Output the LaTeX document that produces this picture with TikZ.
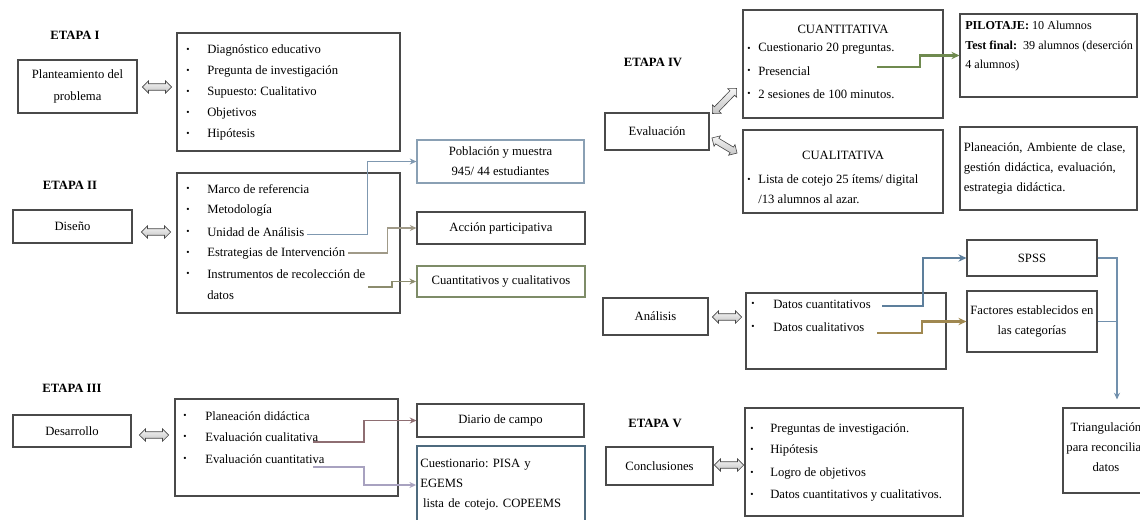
\documentclass[tikz,border=0pt]{standalone}
\usepackage{fontspec}
\setmainfont{Liberation Serif}
\usetikzlibrary{arrows.meta,shapes.arrows,shadows}
\newcommand\dfs{\fontsize{9.5}{15}\selectfont\frenchspacing}
\newcommand\dfsb{\fontsize{9.5}{16.5}\selectfont\frenchspacing}
\newcommand\dfsp{\fontsize{9.1}{14.6}\selectfont\frenchspacing}
\newcommand\bx[7]{\node[box,#6,minimum width={(#4-#2)*0.75pt},minimum height={(#5-#3)*0.75pt}] (#1) at ({(#2+#4)/2},{(#3+#5)/2}) {#7};}
\definecolor{boxgray}{HTML}{4A4A4A}
\definecolor{pobcol}{HTML}{8AA0B4}
\definecolor{poblin}{HTML}{7F98B0}
\definecolor{acclin}{HTML}{A09A88}
\definecolor{cyclin}{HTML}{8C8C6E}
\definecolor{cycbox}{HTML}{7E8C68}
\definecolor{dialin}{HTML}{8E6E72}
\definecolor{cuelin}{HTML}{A8A2C0}
\definecolor{cuebox}{HTML}{4E6A7E}
\definecolor{pillin}{HTML}{6F8A4F}
\definecolor{qlin}{HTML}{5D7F9C}
\definecolor{clin}{HTML}{A08850}
\definecolor{trilin}{HTML}{7190AD}
\begin{document}
\begin{tikzpicture}[x=0.75pt,y=-0.75pt,
  box/.style={draw=boxgray, fill=white, line width=0.8pt, inner sep=0pt, font=\dfs, align=center,
    drop shadow={shadow xshift=0.9pt, shadow yshift=-0.9pt, opacity=0.3, fill=black}},
  itm/.style={font=\dfs, anchor=west, inner sep=0pt},
  bul/.style={font=\fontsize{7}{7}\selectfont, inner sep=0pt},
  etapa/.style={font=\dfs\bfseries, inner sep=0pt},
  dbl/.style={double arrow, draw=gray!55!black, line width=0.45pt, top color=gray!8, bottom color=gray!45,
    minimum height=22pt, inner xsep=0pt, inner ysep=2.2pt, double arrow head extend=2.2pt},
  conn/.style={line width=0.9pt, -{Stealth[length=5pt,width=4.5pt]}},
  thick conn/.style={line width=1.9pt, -{Stealth[length=6pt,width=5.5pt]}}
]
\useasboundingbox (0,0) rectangle (1140,519);
\clip (0,0) rectangle (1140,519);
\fill[white] (0,0) rectangle (1140,519);

% ---------- ETAPA I ----------
\node[etapa] (e1) at (75,35) {ETAPA I};
\bx{p1}{18}{60}{137}{113}{font=\dfsb}{Planteamiento del\\problema}
\bx{b1}{177}{33}{400}{151}{}{}
\foreach \y in {50,71,92,113,134} \node[bul] at (188,\y) {\textbullet};
\node[itm] (i11) at (207,50) {Diagnóstico educativo};
\node[itm] (i12) at (207,71) {Pregunta de investigación};
\node[itm] (i13) at (207,92) {Supuesto: Cualitativo};
\node[itm] (i14) at (207,113) {Objetivos};
\node[itm] (i15) at (207,134) {Hipótesis};
\node[dbl] (a1) at (157,87) {};

% ---------- ETAPA II ----------
\node[etapa] (e2) at (70,185) {ETAPA II};
\bx{d2}{13}{210}{132}{243}{}{Diseño}
\bx{b2}{177}{173}{400}{313}{}{}
\foreach \y in {189,210,232,253,274} \node[bul] at (188,\y) {\textbullet};
\node[itm] (i21) at (207,189) {Marco de referencia};
\node[itm] (i22) at (207,210) {Metodología};
\node[itm] (i23) at (207,232) {Unidad de Análisis};
\node[itm] (i24) at (207,253) {Estrategias de Intervención};
\node[itm] (i25) at (207,274) {Instrumentos de recolección de};
\node[itm] (i26) at (207,295) {datos};
\node[dbl] (a2) at (156,232) {};

\bx{pob}{417}{140}{584}{183}{draw=pobcol}{Población y muestra\\945/ 44 estudiantes}
\bx{acc}{417}{212}{585}{244}{}{Acción participativa}
\bx{cyc}{417}{266}{585}{297}{draw=cycbox, line width=1.4pt}{Cuantitativos y cualitativos}

\coordinate (k1) at (365,0);
\coordinate (k2) at (385,0);
\coordinate (k3) at (392,0);
\coordinate (s3) at (368,287);
\draw[conn, poblin] ([xshift=2pt,yshift=-2pt]i23.east) -- ([xshift=2pt,yshift=-2pt]i23.east -| k1) |- (pob.west);
\draw[conn, acclin] ([xshift=2pt]i24.east) -- ([xshift=2pt]i24.east -| k2) |- (acc.west);
\draw[conn, cyclin] (s3) -- (s3 -| k3) |- (cyc.west);

% ---------- ETAPA III ----------
\node[etapa] (e3) at (72,388) {ETAPA III};
\bx{d3}{13}{415}{131}{447}{}{Desarrollo}
\bx{b3}{175}{399}{398}{496}{}{}
\foreach \y in {416,437,459} \node[bul] at (185,\y) {\textbullet};
\node[itm] (i31) at (205,416) {Planeación didáctica};
\node[itm] (i32) at (205,437) {Evaluación cualitativa};
\node[itm] (i33) at (205,459) {Evaluación cuantitativa};
\node[dbl] (a3) at (154,435) {};

\bx{dia}{417}{404}{584}{437}{}{Diario de campo}
\bx{cue}{417}{446}{585}{524}{draw=cuebox, line width=1.4pt, text width=121pt, align=left}{Cuestionario: PISA y\\EGEMS\\\hspace{2pt}lista de cotejo. COPEEMS}

\coordinate (k4) at (364,0);
\coordinate (s4) at (313,442);
\coordinate (s5) at (313,467);
\draw[conn, dialin] (s4) -- (s4 -| k4) |- (dia.west);
\draw[conn, cuelin] (s5) -- (s5 -| k4) |- (cue.west);

% ---------- ETAPA IV ----------
\node[etapa] (e4) at (653,62) {ETAPA IV};
\bx{ev}{605}{113}{709}{150}{}{Evaluación}
\bx{cuant}{743}{10}{943}{118}{}{}
\node[inner sep=0pt, font=\dfs] (t1) at (843,29) {CUANTITATIVA};
\foreach \y in {49,71,94} \node[bul] at (749,\y) {\textbullet};
\node[itm] (i41) at (758,49) {Cuestionario 20 preguntas.};
\node[itm] (i42) at (758,71) {Presencial};
\node[itm] (i43) at (758,94) {2 sesiones de 100 minutos.};
\bx{cual}{743}{130}{943}{213}{}{}
\node[inner sep=0pt, font=\dfs] (t2) at (843,155) {CUALITATIVA};
\node[bul] at (749,180) {\textbullet};
\node[itm] (i44) at (758,180) {Lista de cotejo 25 ítems/ digital};
\node[itm] (i45) at (758,199) {/13 alumnos al azar.};
\node[dbl, rotate=46, minimum height=26pt] (a4) at (724.5,101) {};
\node[dbl, rotate=-31] (a5) at (724.5,145.5) {};

\bx{pil}{960}{14}{1137}{97}{}{}
\node[inner sep=0pt, font=\dfsp, anchor=north west, align=left] (pilt) at (965,21)
  {\textbf{PILOTAJE:} 10 Alumnos\\\textbf{Test final:}\ \ 39 alumnos (deserción\\4 alumnos)};
\bx{plan}{960}{127}{1137}{210}{text width=127pt, align=left}{Planeación, Ambiente de clase,\\gestión didáctica, evaluación,\\estrategia didáctica.}

\coordinate (s6) at (877,67);
\coordinate (k6) at (920,0);
\draw[thick conn, pillin] (s6) -- (s6 -| k6) |- (pil.west);

% ---------- Análisis ----------
\bx{an}{603}{298}{708}{335}{}{Análisis}
\bx{b4}{746}{293}{946}{369}{}{}
\foreach \y in {304,327} \node[bul] at (753,\y) {\textbullet};
\node[itm] (i51) at (773,304) {Datos cuantitativos};
\node[itm] (i52) at (773,327) {Datos cualitativos};
\node[dbl] (a6) at (727,317) {};

\bx{spss}{967}{240}{1097}{276}{}{SPSS}
\bx{fac}{967}{291}{1097}{352}{}{Factores establecidos en\\las categorías}
\bx{tri}{1063}{408}{1160}{493}{}{}
\node[inner sep=0pt, font=\dfs, align=center] (trit) at (1106,447) {Triangulación\\para reconciliar\\datos};

\coordinate (s7) at (882,306);
\coordinate (s8) at (877,333);
\coordinate (k7) at (923,0);
\coordinate (k8) at (922,0);
\coordinate (k9) at (1117,0);
\draw[thick conn, qlin] (s7) -- (s7 -| k7) |- (spss.west);
\draw[thick conn, clin] (s8) -- (s8 -| k8) |- (fac.west);
\draw[conn, trilin, shorten >=6pt] (spss.east) -- (spss.east -| k9) -- (k9 |- tri.north);
\draw[trilin, line width=0.9pt] (fac.east) -- (fac.east -| k9);

% ---------- ETAPA V ----------
\node[etapa] (e5) at (655,423) {ETAPA V};
\bx{con}{606}{447}{713}{485}{}{Conclusiones}
\bx{b5}{745}{408}{963}{516}{}{}
\foreach \y in {429,450,473,495} \node[bul] at (752,\y) {\textbullet};
\node[itm] (i61) at (770,429) {Preguntas de investigación.};
\node[itm] (i62) at (770,450) {Hipótesis};
\node[itm] (i63) at (770,473) {Logro de objetivos};
\node[itm] (i64) at (770,495) {Datos cuantitativos y cualitativos.};
\node[dbl] (a7) at (729,465) {};
\end{tikzpicture}
\end{document}
